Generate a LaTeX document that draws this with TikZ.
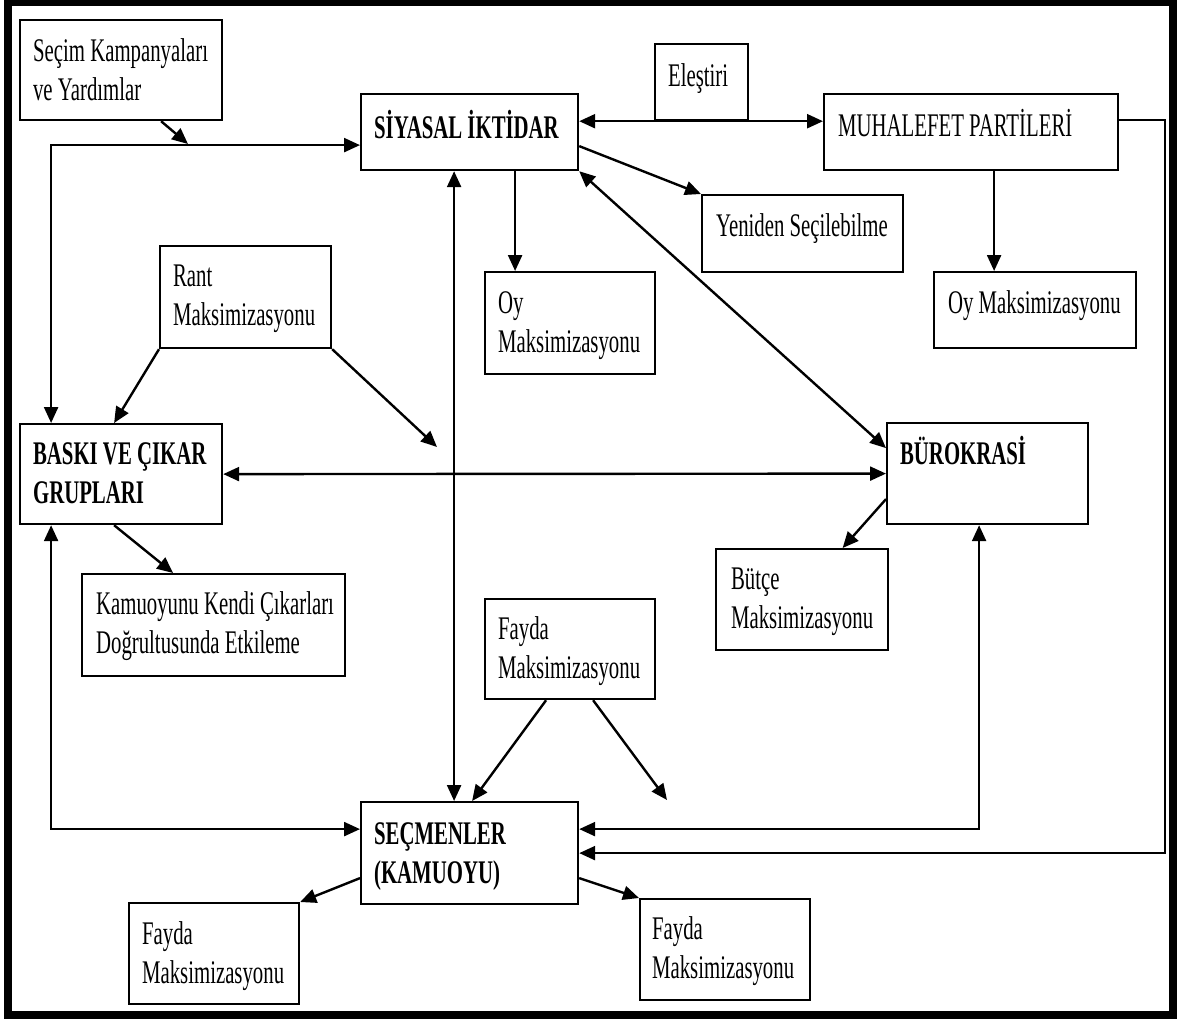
\documentclass[tikz,border=0pt]{standalone}
\usepackage{fontspec}
\setmainfont{Liberation Serif}[FakeStretch=0.63]
\usetikzlibrary{arrows.meta}
\newcommand\myboxfont{\fontsize{33}{39.5}\selectfont}
\newcommand\mybx[8]{%
  \pgfmathsetmacro\bxw{#4-#2-2*#6}%
  \pgfmathsetmacro\bxh{#7-#3}%
  \pgfmathsetmacro\bxd{#5-#7}%
  \node[bx, inner xsep=#6pt, text width=\bxw pt, text height=\bxh pt, text depth=\bxd pt] (#1) at (#2,#3) {\spaceskip 5.2pt plus 1pt minus 1pt\relax #8};}
\tikzset{
  bx/.style={draw, line width=2.2pt, inner ysep=0pt, anchor=north west, align=left, font=\myboxfont},
  ar/.style={line width=2.4pt, -{Triangle[length=16pt,width=14pt]}},
  dar/.style={line width=2.4pt, {Triangle[length=16pt,width=14pt]}-{Triangle[length=16pt,width=14pt]}},
  frame/.style={line width=8pt}
}
\begin{document}
\begin{tikzpicture}[x=1pt,y=-1pt]
\useasboundingbox (0,0) rectangle (1182,1018);
\draw[frame] (7.5,1.5) rectangle (1172.5,1015);
% boxes
\mybx{sec}{19}{19}{221}{119}{13}{60}{\mbox{Seçim Kampanyaları}\\\mbox{ve Yardımlar}}
\mybx{ele}{654}{43}{747}{119}{13}{85}{\mbox{Eleştiri}}
\mybx{siy}{360}{93}{577}{169}{13}{137}{\bfseries\mbox{SİYASAL İKTİDAR}}
\mybx{muh}{823}{93}{1117}{169}{14}{135}{\mbox{MUHALEFET PARTİLERİ}}
\mybx{yen}{701}{194}{902}{271}{14}{235}{\mbox{Yeniden Seçilebilme}}
\mybx{oym}{484}{271}{654}{373}{13}{312}{\mbox{Oy}\\\mbox{Maksimizasyonu}}
\mybx{oyb}{933}{271}{1135}{347}{14}{312}{\mbox{Oy Maksimizasyonu}}
\mybx{rant}{159}{245}{330}{347}{13}{285}{\mbox{Rant}\\\mbox{Maksimizasyonu}}
\mybx{bas}{19}{423}{221}{523}{13}{463}{\bfseries\mbox{BASKI VE ÇIKAR}\\\mbox{GRUPLARI}}
\mybx{bur}{886}{422}{1087}{523}{13}{463}{\bfseries\mbox{BÜROKRASİ}}
\mybx{kmy}{81}{573}{344}{675}{14}{613}{\mbox{Kamuoyunu Kendi Çıkarları}\\\mbox{Doğrultusunda Etkileme}}
\mybx{but}{715}{548}{887}{649}{15}{588}{\mbox{Bütçe}\\\mbox{Maksimizasyonu}}
\mybx{fay}{484}{598}{654}{698}{13}{638}{\mbox{Fayda}\\\mbox{Maksimizasyonu}}
\mybx{kam}{360}{801}{577}{903}{13}{843}{\bfseries\mbox{SEÇMENLER}\\\mbox{(KAMUOYU)}}
\mybx{fa}{128}{902}{298}{1003}{13}{943}{\mbox{Fayda}\\\mbox{Maksimizasyonu}}
\mybx{fb}{639}{898}{809}{999}{12}{938}{\mbox{Fayda}\\\mbox{Maksimizasyonu}}
% connectors
\coordinate (j1) at (188,144);
\draw[ar] ([xshift=40pt]sec.south) -- (j1);
\draw[dar] ([yshift=-13pt]siy.west) -| ([xshift=-70pt]bas.north);
\draw[dar] (siy.east |- ele.south) -- (muh.west |- ele.south);
\draw[ar] ([yshift=-14pt]siy.east) -- (yen.north west);
\coordinate (a1) at ([xshift=45.5pt]siy.south);
\draw[ar] (a1) -- (a1 |- oym.north);
\draw[dar] ([xshift=-15.5pt]siy.south) -- ([xshift=-15.5pt]kam.north);
\draw[dar] (siy.south east) -- ([yshift=25.5pt]bur.west);
\coordinate (a2) at ([xshift=23pt]muh.south);
\draw[ar] (a2) -- (a2 |- oyb.north);
\draw[ar] ([yshift=12pt]muh.east) -- ++(46,0) |- (kam.east);
\draw[ar] (rant.south west) -- ([xshift=-7pt]bas.north);
\coordinate (r1) at (437,447);
\draw[ar] (rant.south east) -- (r1);
\draw[dar] (bas.east) -- (bur.west);
\draw[ar] ([xshift=-7pt]bas.south) -- ([xshift=-40.5pt]kmy.north);
\draw[dar] ([xshift=-70pt]bas.south) |- ([yshift=24pt]kam.west);
\draw[ar] ([yshift=-25.5pt]bur.west) -- ([xshift=40.5pt]but.north);
\draw[dar] ([xshift=-8.5pt]bur.south) |- ([yshift=24pt]kam.east);
\draw[ar] ([xshift=-24pt]fay.south) -- ([xshift=2.5pt]kam.north);
\coordinate (r2) at (667,800);
\draw[ar] ([xshift=23pt]fay.south) -- (r2);
\draw[ar] ([yshift=-25pt]kam.west) -- (fa.north east);
\draw[ar] ([yshift=-25pt]kam.east) -- (fb.north west);
\end{tikzpicture}
\end{document}
